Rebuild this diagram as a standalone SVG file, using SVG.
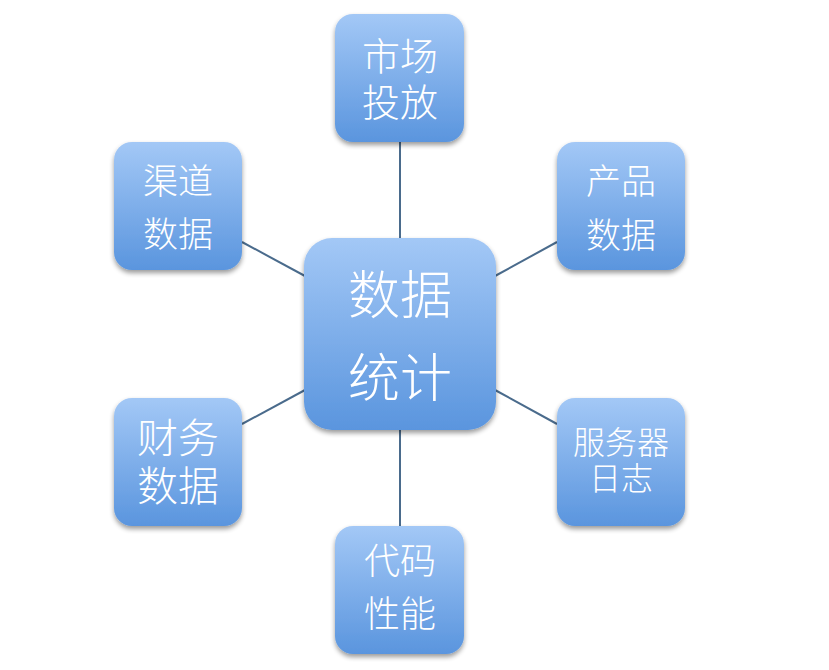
<svg xmlns="http://www.w3.org/2000/svg" width="829" height="670" viewBox="0 0 829 670">
<defs>
<linearGradient id="g" x1="0" y1="0" x2="0" y2="1">
<stop offset="0" stop-color="#a3c8f6"/>
<stop offset="1" stop-color="#5a95de"/>
</linearGradient>
<filter id="sh" x="-20%" y="-20%" width="140%" height="150%">
<feGaussianBlur in="SourceAlpha" stdDeviation="2.5"/>
<feOffset dy="3" result="b"/>
<feComponentTransfer><feFuncA type="linear" slope="0.4"/></feComponentTransfer>
<feMerge><feMergeNode/><feMergeNode in="SourceGraphic"/></feMerge>
</filter>
</defs>
<style>
.box{fill:url(#g);filter:url(#sh)}
.t{fill:#ffffff;font-family:"Noto Sans CJK SC","Noto Sans",sans-serif;font-weight:300;text-anchor:middle;dominant-baseline:central}
.c{stroke:#4a6b8c;stroke-width:2;fill:none}
</style>
<rect width="829" height="670" fill="#ffffff"/>
<g id="connectors">
<line class="c" x1="400" y1="142" x2="400" y2="238"/>
<line class="c" x1="400" y1="430" x2="400" y2="526"/>
<line class="c" x1="242" y1="242" x2="305" y2="276"/>
<line class="c" x1="495" y1="276" x2="557" y2="242"/>
<line class="c" x1="242" y1="424" x2="305" y2="390"/>
<line class="c" x1="495" y1="390" x2="557" y2="424"/>
</g>
<g id="center">
<rect class="box" x="304" y="238" width="192" height="192" rx="28"/>
<text class="t" x="400" y="291" font-size="52">数据</text>
<text class="t" x="400" y="374" font-size="52">统计</text>
</g>
<g id="top">
<rect class="box" x="335" y="14" width="129" height="128" rx="18"/>
<text class="t" x="400" y="53" font-size="38">市场</text>
<text class="t" x="400" y="99" font-size="38">投放</text>
</g>
<g id="product">
<rect class="box" x="557" y="142" width="128" height="128" rx="18"/>
<text class="t" x="621" y="178" font-size="35">产品</text>
<text class="t" x="621" y="232" font-size="35">数据</text>
</g>
<g id="channel">
<rect class="box" x="114" y="142" width="128" height="128" rx="18"/>
<text class="t" x="178" y="178" font-size="35">渠道</text>
<text class="t" x="178" y="231" font-size="35">数据</text>
</g>
<g id="finance">
<rect class="box" x="114" y="398" width="128" height="128" rx="18"/>
<text class="t" x="178" y="435" font-size="41">财务</text>
<text class="t" x="178" y="483" font-size="41">数据</text>
</g>
<g id="server">
<rect class="box" x="557" y="398" width="128" height="128" rx="18"/>
<text class="t" x="621" y="440" font-size="32">服务器</text>
<text class="t" x="621" y="476" font-size="32">日志</text>
</g>
<g id="code">
<rect class="box" x="335" y="526" width="129" height="128" rx="18"/>
<text class="t" x="400" y="558" font-size="36">代码</text>
<text class="t" x="400" y="611" font-size="36">性能</text>
</g>
</svg>
